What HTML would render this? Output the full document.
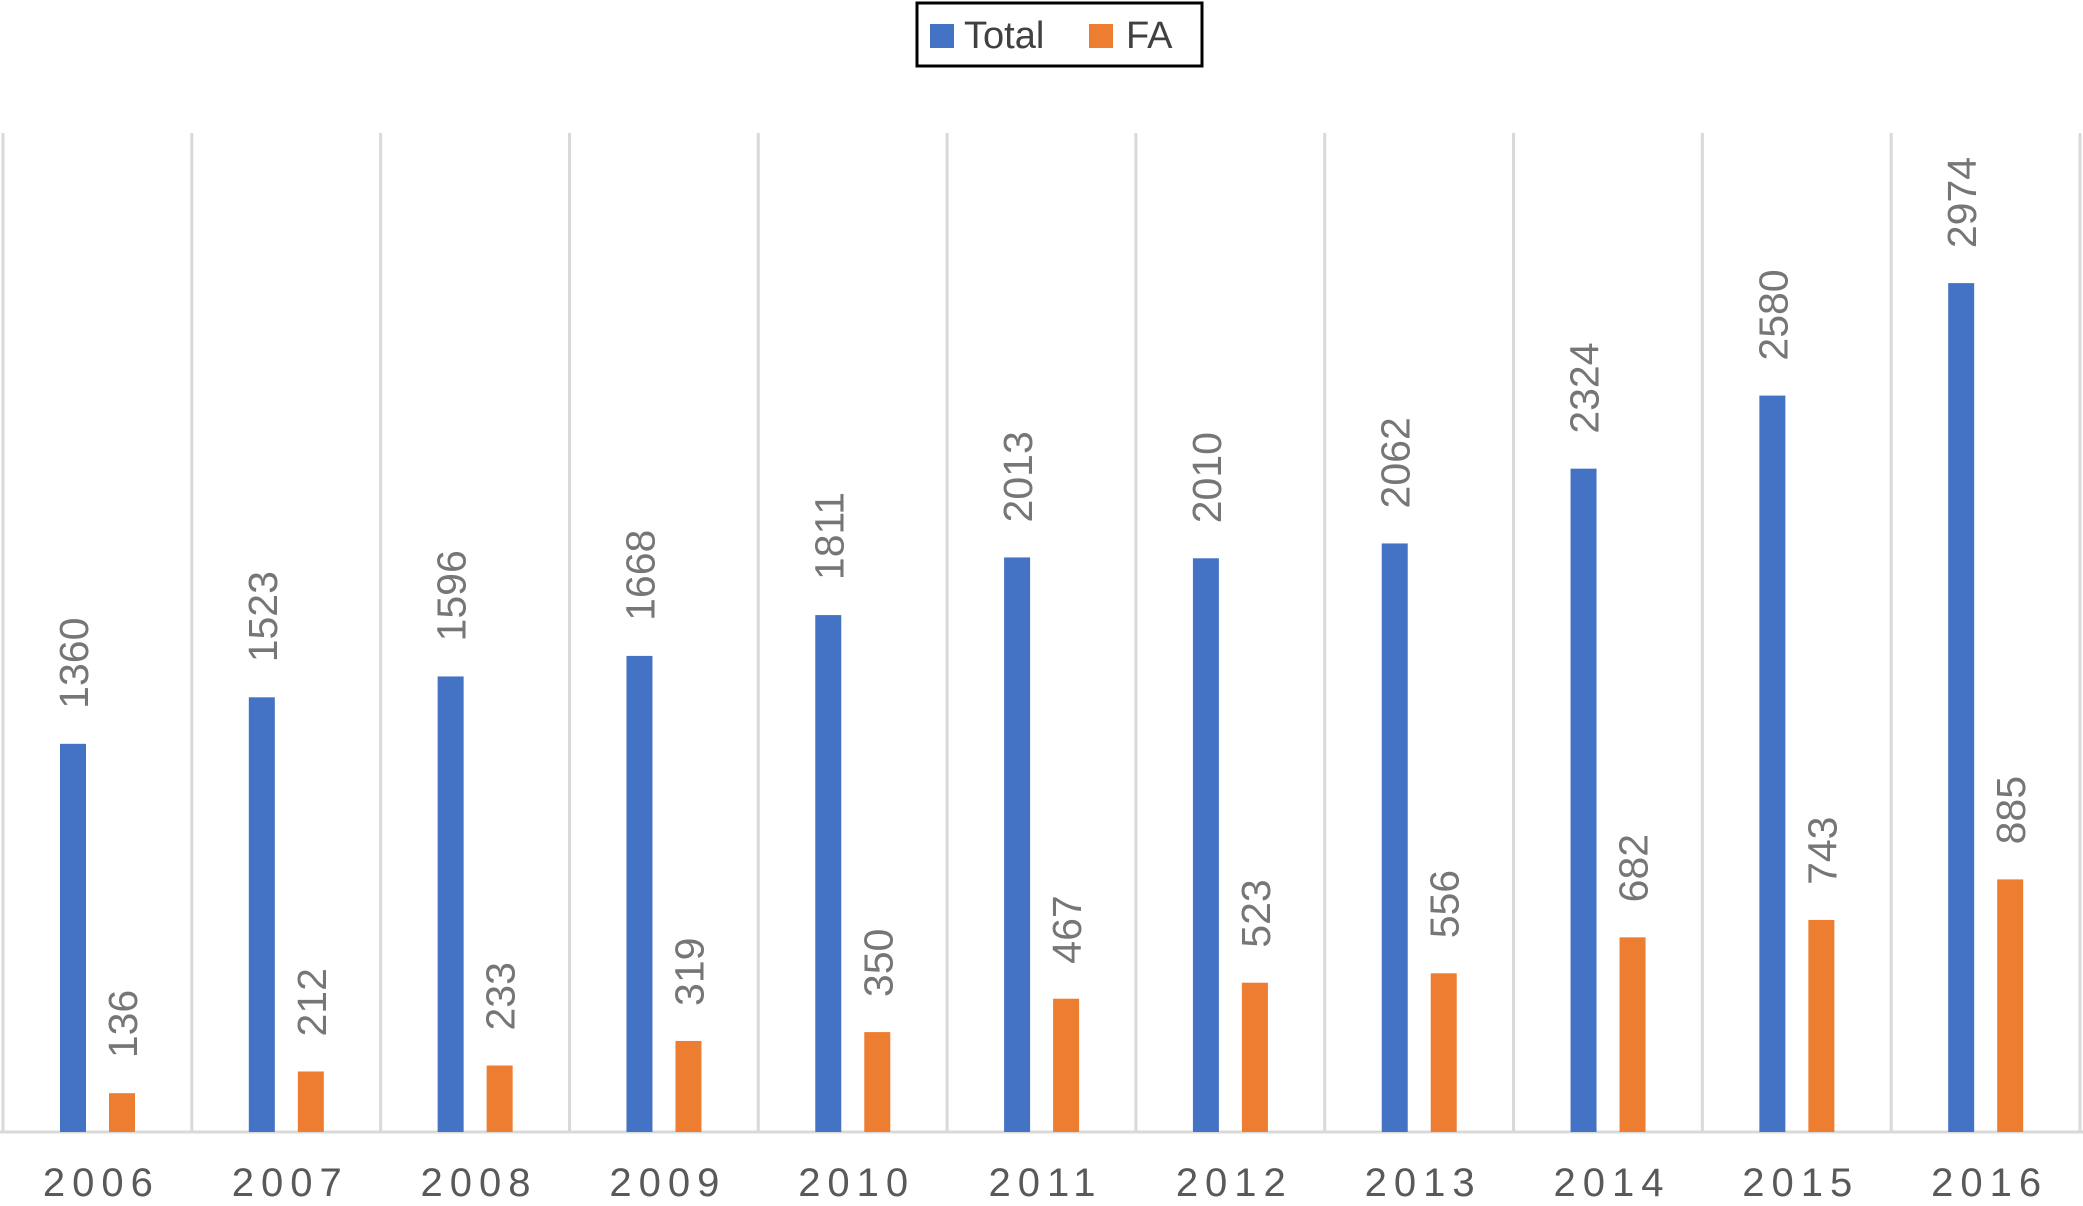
<!DOCTYPE html>
<html><head><meta charset="utf-8"><style>
html,body{margin:0;padding:0;background:#fff;}
svg{display:block;font-family:"Liberation Sans",sans-serif;}
</style></head><body>
<svg id="chart" width="2083" height="1206" viewBox="0 0 2083 1206" xmlns="http://www.w3.org/2000/svg">
<g>
<rect x="917" y="3" width="285" height="63" fill="#fff" stroke="#000" stroke-width="3"/>
<rect x="930" y="24" width="24" height="24" fill="#4472C4"/>
<text x="964" y="48" font-size="38" fill="#404040">Total</text>
<rect x="1089" y="24" width="24" height="24" fill="#ED7D31"/>
<text x="1126" y="48" font-size="38" fill="#404040">FA</text>
</g>
<g id="grid"></g>
<g id="bars"></g>
<g id="xlabels"></g>
</svg>
<script>
const categories = ["2006","2007","2008","2009","2010","2011","2012","2013","2014","2015","2016"];
const totalValues = [1360,1523,1596,1668,1811,2013,2010,2062,2324,2580,2974];
const faValues = [136,212,233,319,350,467,523,556,682,743,885];
const yMax = 3500;

const NS="http://www.w3.org/2000/svg";
const plotLeft=3, plotRight=2080, plotTop=133, plotBase=1132;
const cw=(plotRight-plotLeft)/categories.length;
function xCat(i){return plotLeft+i*cw;}
function yVal(v){return plotBase-(v/yMax)*(plotBase-plotTop);}
function mk(tag,attrs,parent){const e=document.createElementNS(NS,tag);for(const k in attrs)e.setAttribute(k,attrs[k]);parent.appendChild(e);return e;}
const grid=document.getElementById('grid'),bars=document.getElementById('bars'),xl=document.getElementById('xlabels');
for(let i=0;i<=categories.length;i++){
  const l=mk('line',{x1:xCat(i),x2:xCat(i),y1:plotTop,y2:plotBase,stroke:'#d9d9d9','stroke-width':3},grid);
  
  
}
const ax=mk('line',{x1:plotLeft-3,x2:plotRight+3,y1:plotBase,y2:plotBase,stroke:'#d9d9d9','stroke-width':3},grid);


const bw=26;
function drawBar(i,v,off,color,name){
  const x=xCat(i)+off, y=yVal(v);
  const r=mk('rect',{x:x,y:y,width:bw,height:plotBase-y,fill:color},bars);
  
  
  const cx=x+bw/2+15, cy=y-35;
  const t=mk('text',{x:cx,y:cy,'font-size':41,fill:'#767676',transform:'rotate(-90 '+cx+' '+cy+')'},bars);
  
  
  t.textContent=v;
}
categories.forEach((c,i)=>{
  drawBar(i,totalValues[i],57,'#4472C4','total');
  drawBar(i,faValues[i],106,'#ED7D31','fa');
  const t=mk('text',{x:xCat(i)+cw/2+4,y:1196,'font-size':40,fill:'#595959','text-anchor':'middle','letter-spacing':7},xl);
  
  
  t.textContent=c;
});
</script>
</body></html>
